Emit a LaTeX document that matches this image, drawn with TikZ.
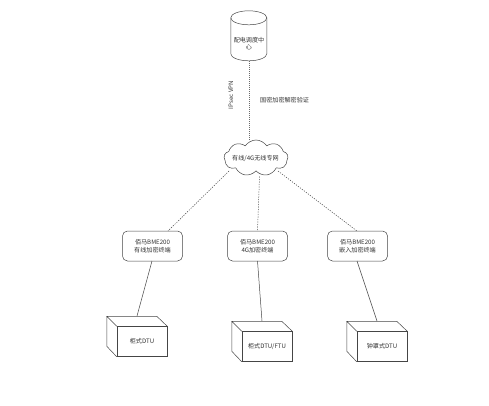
\documentclass[tikz,border=0pt]{standalone}
\usepackage{fontspec}
\setmainfont{Noto Sans CJK SC}
\usetikzlibrary{shapes.geometric,shapes.symbols}
\definecolor{ln}{gray}{0.27}
\tikzset{
  x=1pt,y=-1pt,
  every node/.style={font=\fontsize{6.1}{7.5}\selectfont,text=black!80,align=center,inner sep=0pt},
  link/.style={draw=ln,line width=0.5pt},
  dashlink/.style={draw=ln,line width=0.5pt,dash pattern=on 1.2pt off 1.3pt},
  vdashlink/.style={draw=ln!80,line width=0.5pt,dash pattern=on 1pt off 1pt},
  termbox/.style={draw=ln,line width=0.5pt,rounded corners=5pt,minimum width=60pt,minimum height=30pt},
  front/.style={draw=ln,line width=0.5pt,minimum width=50pt,minimum height=30pt},
  netcloud/.style={draw=ln,line width=0.5pt,cloud,cloud puffs=9,cloud puff arc=115,aspect=1.8,minimum width=64pt,minimum height=36pt},
  store/.style={minimum width=36pt,minimum height=50pt},
}
\newcommand{\boxtop}[1]{%
  \draw[link] (#1.north west) -- ++(-10,-10) -- ++(50,0) -- (#1.north east)
    (#1.north west) ++(-10,-10) -- ++(0,30) -- (#1.south west);}
\begin{document}
\begin{tikzpicture}
\useasboundingbox (0,0) rectangle (489,406);
\node[store] (center) at (249,36) {};
\draw[link] (center.north west) ++(0,7) arc[start angle=180,end angle=-180,x radius=18,y radius=-7];
\draw[link] (center.north west) ++(0,7) -- ++(0,36) arc[start angle=180,end angle=360,x radius=18,y radius=-7] -- ++(0,-36);
\node (centerlabel) at (249,43.5) {配电调度中\\心};
\node[netcloud] (net) at (256,158) {};
\node (netlabel) at (255.5,158.5) {有线/4G无线专网};
\node[termbox] (t1) at (152.5,246) {佰马BME200\\有线加密终端};
\node[termbox] (t2) at (257.5,246) {佰马BME200\\4G加密终端};
\node[termbox] (t3) at (357.5,246) {佰马BME200\\嵌入加密终端};
\node[front] (d1) at (142,341.5) {柜式DTU};
\node[front] (d2) at (267,346.5) {柜式DTU/FTU};
\node[front] (d3) at (382,346.5) {钟罩式DTU};
\boxtop{d1}\boxtop{d2}\boxtop{d3}
\node[rotate=90] (vpn) at (231,95) {IPsec VPN};
\node[anchor=west] (sec) at (260,100) {国密加密解密验证};
\coordinate (c0) at (249,61);
\coordinate (n0) at (249,141);
\coordinate (n1) at (229,171);
\coordinate (n2) at (259.5,176.5);
\coordinate (n3) at (278,171);
\coordinate (a1) at (168,231);
\coordinate (a2) at (257.5,231);
\coordinate (a3) at (357,231);
\coordinate (b1) at (152,261);
\coordinate (b2) at (257.5,261);
\coordinate (b3) at (357,261);
\coordinate (e1) at (137,316);
\coordinate (e2) at (262,321);
\coordinate (e3) at (377,321);
\draw[vdashlink] (c0) -- (n0);
\draw[dashlink] (n1) -- (a1);
\draw[dashlink] (n2) -- (a2);
\draw[dashlink] (n3) -- (a3);
\draw[link] (b1) -- (e1);
\draw[link] (b2) -- (e2);
\draw[link] (b3) -- (e3);
\end{tikzpicture}
\end{document}
